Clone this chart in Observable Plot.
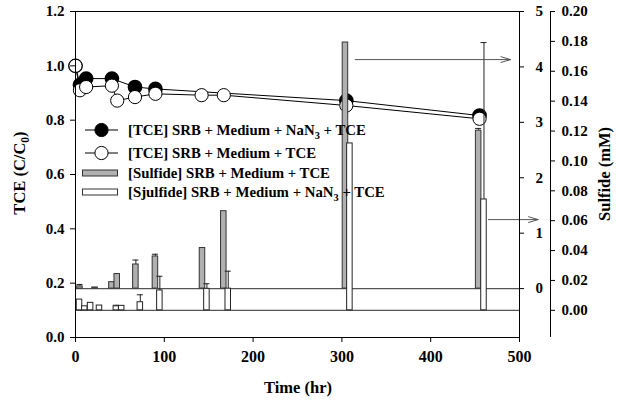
<!DOCTYPE html>
<html>
<head>
<meta charset="utf-8">
<script src="https://cdn.jsdelivr.net/npm/d3@7"></script>
<script src="https://cdn.jsdelivr.net/npm/@observablehq/plot@0.6"></script>
<style>
  body { margin: 0; background: white; }
  #wrap { position: relative; width: 620px; height: 400px; font-family: "Liberation Serif", "Times New Roman", serif; font-weight: bold; color: black; }
  .title { position: absolute; white-space: nowrap; font-size: 16.5px; }
  .legend { position: absolute; left: 82px; top: 120px; font-size: 14.8px; }
  .row { position: absolute; left: 0; height: 20px; white-space: nowrap; display: flex; align-items: center; }
  .row svg { width: 40px; height: 20px; }
  .row span { margin-left: 6px; }
  sub { font-size: 70%; vertical-align: -0.35em; line-height: 0; }
</style>
</head>
<body>
<div id="wrap"></div>
<script>
// ---- data ----
const xDomain = [0, 500];
const xTicks = [0, 100, 200, 300, 400, 500];
const tceTicks = [0, 0.2, 0.4, 0.6, 0.8, 1.0, 1.2];
const midTicks = [0, 1, 2, 3, 4, 5];
const rightTicks = [0, 0.02, 0.04, 0.06, 0.08, 0.10, 0.12, 0.14, 0.16, 0.18, 0.20];

// [TCE] SRB + Medium + NaN3 + TCE (filled)
const timeNaN3 = [0, 5, 12, 41, 67, 90, 305, 455];
const tceNaN3 = [1.0, 0.93, 0.953, 0.953, 0.922, 0.915, 0.872, 0.817];
// [TCE] SRB + Medium + TCE (open)
const timeLive = [0, 5, 12, 41, 47, 67, 90, 142, 167, 305, 455];
const tceLive = [1.0, 0.91, 0.922, 0.927, 0.872, 0.885, 0.897, 0.892, 0.892, 0.854, 0.805];

// [Sulfide] SRB + Medium + TCE (gray bars, middle axis 0-5)
const grayTime = [5, 22, 41, 47, 68, 90, 143, 167, 304, 454];
const grayVal = [0.04, 0.02, 0.116, 0.263, 0.435, 0.58, 0.732, 1.397, 4.44, 2.85];
const grayErr = [0.035, 0, 0, 0, 0.08, 0.04, 0, 0, 0, 0.04];

// [Sjulfide] SRB + Medium + NaN3 + TCE (white bars, right axis 0-0.20 mM)
const whiteTime = [4.5, 10.5, 17, 27, 46, 52, 73, 95, 148, 172, 309, 460];
const whiteVal = [0.0072, 0.0027, 0.005, 0.0032, 0.0027, 0.003, 0.0054, 0.0133, 0.0144, 0.0145, 0.1117, 0.0742];
const whiteErr = [0, 0, 0, 0, 0.0007, 0, 0.005, 0.0095, 0.0034, 0.0117, 0, 0.105];

// annotation arrows (x in hr, y in TCE units)
const arrowX1 = [315, 465];
const arrowX2 = [490, 521];
const arrowY = [1.023, 0.434];

// ---- conversions of the secondary axes onto the TCE scale ----
const midZero = 0.18, midTop = 1.2, midMax = 5;
const rightZero = 0.1, rightTop = 1.2, rightMax = 0.2;
const toMid = v => midZero + v * (midTop - midZero) / midMax;
const fromMid = t => (t - midZero) * midMax / (midTop - midZero);
const toRight = w => rightZero + w * (rightTop - rightZero) / rightMax;
const fromRight = t => (t - rightZero) * rightMax / (rightTop - rightZero);

const barW = 6.2, capW = 3.4;
const filled = timeNaN3.map((x, i) => ({x, y: tceNaN3[i]}));
const open = timeLive.map((x, i) => ({x, y: tceLive[i]}));
const gray = grayTime.map((x, i) => ({x, v: grayVal[i], e: grayErr[i]}));
const white = whiteTime.map((x, i) => ({x, v: whiteVal[i], e: whiteErr[i]}));
const arrows = arrowX1.map((x1, i) => ({x1, x2: arrowX2[i], y: arrowY[i]}));
const grayE = gray.filter(d => d.e > 0);
const whiteE = white.filter(d => d.e > 0);

const chart = Plot.plot({
  width: 620, height: 400,
  marginLeft: 75, marginRight: 101, marginTop: 11, marginBottom: 63,
  x: {domain: xDomain},
  y: {domain: [0, 1.2]},
  style: {fontFamily: "'Liberation Serif', 'Times New Roman', serif", fontWeight: "bold", fontSize: "15px", color: "black", background: "white", overflow: "visible"},
  marks: [
    Plot.ruleY([toMid(0), toRight(0)], {stroke: "#555", strokeWidth: 1.2}),
    Plot.line(filled, {x: "x", y: "y", stroke: "black", strokeWidth: 1}),
    Plot.line(open, {x: "x", y: "y", stroke: "black", strokeWidth: 1}),
    Plot.dot(filled, {x: "x", y: "y", r: 6.6, fill: "black", stroke: "black"}),
    Plot.dot(open, {x: "x", y: "y", r: 6.6, fill: "white", stroke: "black", strokeWidth: 1}),
    // gray bars + error bars
    Plot.ruleX(grayE, {x: "x", y1: d => toMid(d.v), y2: d => toMid(d.v + d.e), stroke: "#222", strokeWidth: 1}),
    Plot.ruleY(grayE, {y: d => toMid(d.v + d.e), x1: d => d.x - capW, x2: d => d.x + capW, stroke: "#222", strokeWidth: 1}),
    Plot.rectY(gray, {x1: d => d.x - barW / 2, x2: d => d.x + barW / 2, y1: toMid(0), y2: d => toMid(d.v), fill: "#b0b0b0", stroke: "#333", strokeWidth: 1}),
    // white bars + error bars
    Plot.ruleX(whiteE, {x: "x", y1: d => toRight(d.v), y2: d => toRight(d.v + d.e), stroke: "#222", strokeWidth: 1}),
    Plot.ruleY(whiteE, {y: d => toRight(d.v + d.e), x1: d => d.x - capW, x2: d => d.x + capW, stroke: "#222", strokeWidth: 1}),
    Plot.rectY(white, {x1: d => d.x - barW / 2, x2: d => d.x + barW / 2, y1: toRight(0), y2: d => toRight(d.v), fill: "white", stroke: "#222", strokeWidth: 1}),
    // arrows
    Plot.arrow(arrows, {x1: "x1", x2: "x2", y1: "y", y2: "y", stroke: "#555", strokeWidth: 1, headLength: 15, headAngle: 33}),
    Plot.frame({stroke: "black"}),
    // axes
    Plot.axisX({ticks: xTicks, tickSize: 5, tickPadding: 8, label: null, fontSize: 16}),
    Plot.axisY({ticks: tceTicks, tickSize: 5, tickPadding: 6, tickFormat: d3.format(".1f"), label: null}),
    Plot.axisY(midTicks.map(toMid), {anchor: "right", tickSize: 4, tickPadding: 12, tickFormat: d => String(Math.round(fromMid(d))), label: null}),
    Plot.ruleX([xDomain[1]], {y1: 0, y2: 1.2, dx: 31, stroke: "black"}),
    Plot.axisY(rightTicks.map(toRight), {anchor: "right", dx: 31, tickSize: 4, tickPadding: 7, tickFormat: d => fromRight(d).toFixed(2), label: null})
  ]
});

const wrap = document.getElementById("wrap");
wrap.appendChild(chart);

function addTitle(html, left, top, rotate) {
  const d = document.createElement("div");
  d.className = "title";
  d.innerHTML = html;
  d.style.left = left + "px";
  d.style.top = top + "px";
  d.style.transform = "translate(-50%,-50%)" + (rotate ? " rotate(-90deg)" : "");
  wrap.appendChild(d);
}
addTitle("Time (hr)", 298, 388, false);
addTitle("TCE (C/C<sub>0</sub>)", 20, 173, true);
addTitle("Sulfide (mM)", 605, 174, true);

// legend
const legendItems = [
  {label: "[TCE] SRB + Medium + NaN<sub>3</sub> + TCE", kind: "filled"},
  {label: "[TCE] SRB + Medium + TCE", kind: "open"},
  {label: "[Sulfide] SRB + Medium + TCE", kind: "gray"},
  {label: "[Sjulfide] SRB + Medium + NaN<sub>3</sub> + TCE", kind: "white"}
];
const legendTops = [0, 23, 43, 62];
const legend = document.createElement("div");
legend.className = "legend";
legendItems.forEach((it, i) => {
  const row = document.createElement("div");
  row.className = "row";
  row.style.top = legendTops[i] + "px";
  let sym;
  if (it.kind === "filled" || it.kind === "open") {
    const f = it.kind === "filled" ? "black" : "white";
    sym = `<svg viewBox="0 0 40 20"><line x1="3" x2="36" y1="10" y2="10" stroke="black"/><circle cx="19.5" cy="10" r="6.6" fill="${f}" stroke="black"/></svg>`;
  } else {
    const f = it.kind === "gray" ? "#b0b0b0" : "white";
    sym = `<svg viewBox="0 0 40 20"><rect x="0.5" y="7" width="35" height="6" fill="${f}" stroke="#333"/></svg>`;
  }
  row.innerHTML = sym + `<span>${it.label}</span>`;
  legend.appendChild(row);
});
wrap.appendChild(legend);
</script>
</body>
</html>
